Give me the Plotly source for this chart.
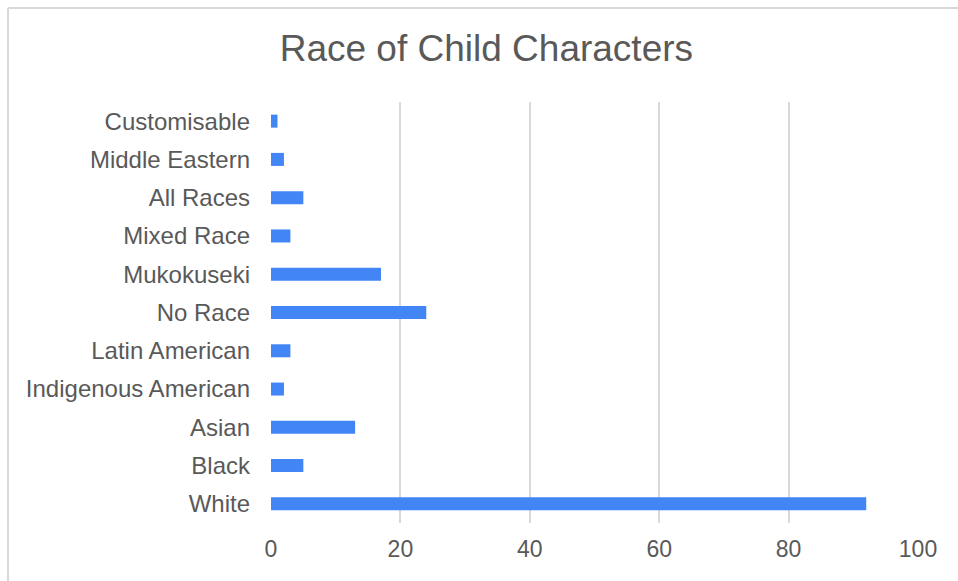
import plotly.graph_objects as go

categories = ["White", "Black", "Asian", "Indigenous American", "Latin American",
              "No Race", "Mukokuseki", "Mixed Race", "All Races", "Middle Eastern",
              "Customisable"]
counts = [92, 5, 13, 2, 3, 24, 17, 3, 5, 2, 1]
x_ticks = [0, 20, 40, 60, 80, 100]

fig = go.Figure(go.Bar(
    x=counts, y=categories, orientation="h",
    marker=dict(color="#4285F4", line=dict(width=0)),
    width=0.34,
))

fig.update_layout(
    width=958, height=581,
    margin=dict(l=271, r=40, t=102, b=58),
    paper_bgcolor="white", plot_bgcolor="white",
    font=dict(family="Liberation Sans, Arial, sans-serif", color="#595959", size=23),
    title=dict(text="Race of Child Characters", x=0.5077, xanchor="center",
               y=0.918, yanchor="middle",
               font=dict(size=37, color="#595959")),
    showlegend=False,
    xaxis=dict(range=[0, 100], tickvals=x_ticks, showgrid=True, gridcolor="#d9d9d9",
               gridwidth=1.5, zeroline=False, showline=False, ticks="",
               tickfont=dict(size=23), ticklabelstandoff=10),
    yaxis=dict(categoryorder="array", categoryarray=categories, showgrid=False,
               zeroline=False, showline=False, ticks="", ticklabelstandoff=20,
               tickfont=dict(size=24)),
    shapes=[
        dict(type="line", xref="paper", yref="paper",
             x0=(8 - 271) / 647, x1=(958 - 271) / 647,
             y0=(523 - 8) / 421, y1=(523 - 8) / 421,
             line=dict(color="#d9d9d9", width=2)),
        dict(type="line", xref="paper", yref="paper",
             x0=(8 - 271) / 647, x1=(8 - 271) / 647,
             y0=(523 - 8) / 421, y1=(523 - 581) / 421,
             line=dict(color="#d9d9d9", width=2)),
    ],
)

fig.write_html("out.html")
